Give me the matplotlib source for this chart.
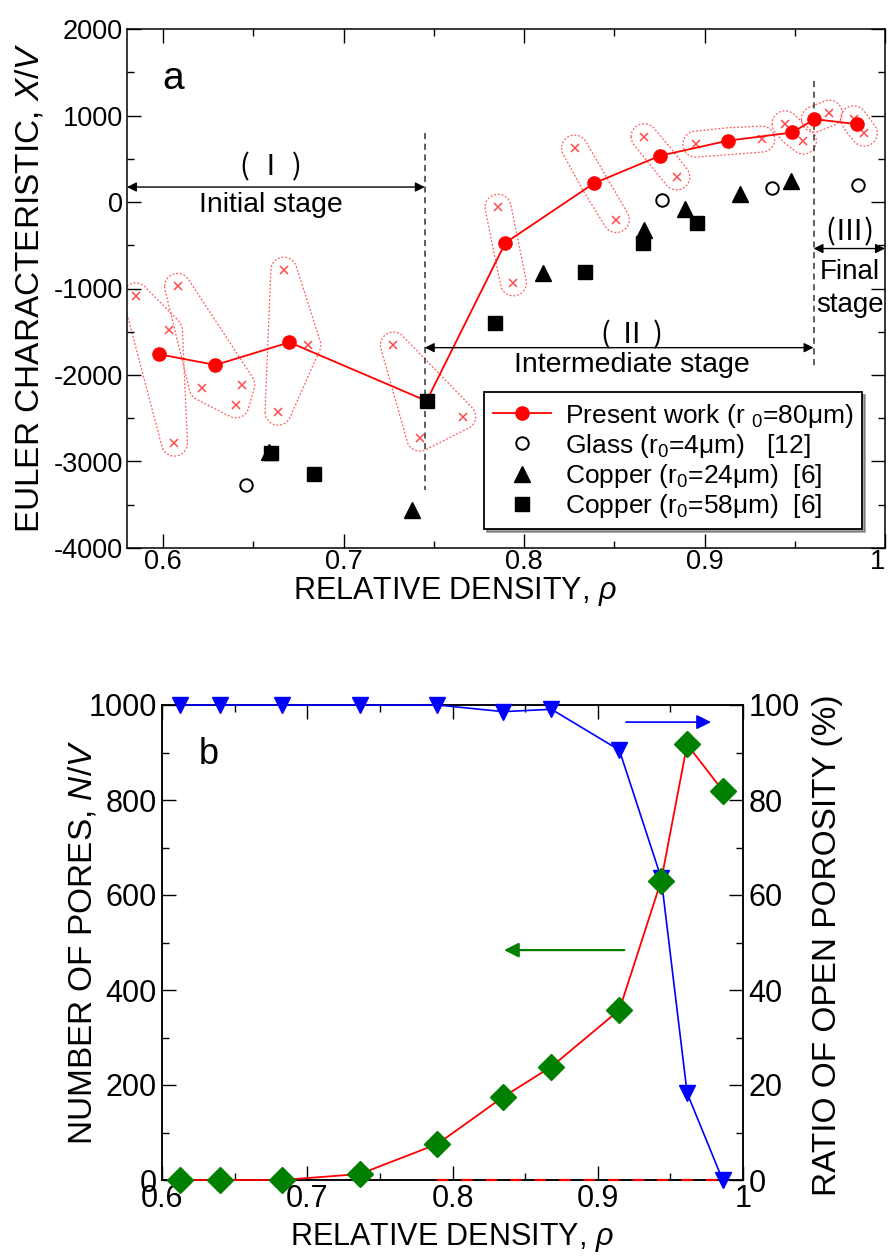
import numpy as np
import matplotlib
matplotlib.use('Agg')
import matplotlib.pyplot as plt
from matplotlib.patches import Polygon
from matplotlib.ticker import MultipleLocator, FuncFormatter

plt.rcParams['font.family'] = ['Liberation Sans', 'DejaVu Sans']
plt.rcParams['mathtext.fontset'] = 'custom'
plt.rcParams['mathtext.rm'] = 'Liberation Sans'
plt.rcParams['mathtext.it'] = 'Liberation Sans:italic'
plt.rcParams['axes.unicode_minus'] = False

# ---------------- data: panel a ----------------
present_x = [0.598, 0.629, 0.670, 0.746, 0.7896, 0.8387, 0.8754, 0.9128, 0.9487, 0.9609, 0.9844]
present_y = [-1761, -1884, -1622, -2300, -473, 216, 535, 708, 804, 958, 900]

sample_x = [0.5848, 0.6035, 0.6063,
            0.608, 0.6217, 0.6436, 0.6404,
            0.6669, 0.6637, 0.6802,
            0.7276, 0.7422, 0.766,
            0.7856, 0.7941,
            0.828, 0.8511,
            0.8665, 0.8846,
            0.8952, 0.9317,
            0.9446, 0.9548,
            0.9691,
            0.9826, 0.9885]
sample_y = [-1085, -1480, -2788,
            -976, -2146, -2111, -2346,
            -788, -2430, -1654,
            -1654, -2730, -2481,
            -61, -935,
            623, -203,
            755, 289,
            669, 727,
            904, 704,
            1027,
            962, 796]
sample_grp = [0, 0, 0, 1, 1, 1, 1, 2, 2, 2, 3, 3, 3, 4, 4, 5, 5, 6, 6, 7, 7, 8, 8, 9, 10, 10]

glass_x = [0.6461, 0.8767, 0.9372, 0.9848]
glass_y = [-3277, 20, 162, 200]
cu24_x = [0.6585, 0.7378, 0.8107, 0.8665, 0.889, 0.9196, 0.948]
cu24_y = [-2892, -3557, -823, -327, -76, 97, 242]
cu58_x = [0.660, 0.6835, 0.7461, 0.7839, 0.834, 0.8659, 0.8956]
cu58_y = [-2903, -3142, -2300, -1396, -807, -473, -242]

stage_bounds = [0.58, 0.745, 0.9604, 1.0]

# ---------------- data: panel b ----------------
dens_b = [0.6122, 0.6399, 0.6825, 0.7362, 0.7896, 0.835, 0.8682, 0.915, 0.9438, 0.9617, 0.9862]
pores = [0, 0, 0, 12.6, 75.8, 175, 238.6, 358, 630, 917, 820]
open_ratio = [100, 100, 100, 100, 100, 98.6, 99.1, 90.5, 63.6, 18.3, 0]

W, H = 888, 1259
fig = plt.figure(figsize=(W / 100, H / 100), dpi=100)

def fax(l, t, r, b):
    return [l / W, 1 - b / H, (r - l) / W, (b - t) / H]

RED = '#ff0000'
ax1 = fig.add_axes(fax(127, 29, 885, 548))
ax1.set_xlim(0.58, 1.0)
ax1.set_ylim(-4000, 2000)

# envelopes (rounded convex hull in display space)
def hull(points):
    pts = sorted(map(tuple, points))
    def cross(o, a, b):
        return (a[0] - o[0]) * (b[1] - o[1]) - (a[1] - o[1]) * (b[0] - o[0])
    lower, upper = [], []
    for p in pts:
        while len(lower) >= 2 and cross(lower[-2], lower[-1], p) <= 0:
            lower.pop()
        lower.append(p)
    for p in reversed(pts):
        while len(upper) >= 2 and cross(upper[-2], upper[-1], p) <= 0:
            upper.pop()
        upper.append(p)
    return np.array(lower[:-1] + upper[:-1])

ang = np.linspace(0, 2 * np.pi, 36, endpoint=False)
circ = np.column_stack([np.cos(ang), np.sin(ang)])
for g in range(len(present_x)):
    xs = [present_x[g]] + [sx for sx, sg in zip(sample_x, sample_grp) if sg == g]
    ys = [present_y[g]] + [sy for sy, sg in zip(sample_y, sample_grp) if sg == g]
    disp = ax1.transData.transform(np.column_stack([xs, ys]))
    r = 13.0
    allp = (disp[:, None, :] + r * circ[None, :, :]).reshape(-1, 2)
    hp = hull(allp)
    data = ax1.transData.inverted().transform(hp)
    ax1.add_patch(Polygon(data, closed=True, fill=False, ec='#ff5a5a',
                          ls=(0, (1.5, 1.5)), lw=0.9, zorder=1))

ax1.plot(sample_x, sample_y, ls='none', marker='x', ms=6, mew=1.1, color='#ff4a4a', zorder=2)
h_present, = ax1.plot(present_x, present_y, '-o', color=RED, lw=1.3, ms=9.5, zorder=3,
                      label='Present work (r $_\\mathrm{0}$=80μm)')
h_glass, = ax1.plot(glass_x, glass_y, ls='none', marker='o', mfc='white', mec='black',
                    mew=1.4, ms=9, zorder=4, label='Glass (r$_\\mathrm{0}$=4μm)   [12]')
h_cu24, = ax1.plot(cu24_x, cu24_y, ls='none', marker='^', color='black', ms=11, zorder=4,
                   label='Copper (r$_\\mathrm{0}$=24μm)  [6]')
h_cu58, = ax1.plot(cu58_x, cu58_y, ls='none', marker='s', color='black', ms=10, zorder=5,
                   label='Copper (r$_\\mathrm{0}$=58μm)  [6]')

# stage boundaries
ax1.plot([stage_bounds[1]] * 2, [800, -3330], ls=(0, (4, 3)), color='#333333', lw=1.1, zorder=2)
ax1.plot([stage_bounds[2]] * 2, [1400, -1920], ls=(0, (4, 3)), color='#333333', lw=1.1, zorder=2)

arrow_kw = dict(arrowstyle='<|-|>', color='black', lw=1.0, mutation_scale=14, shrinkA=0, shrinkB=0)
ax1.annotate('', xy=(stage_bounds[0], 173), xytext=(stage_bounds[1], 173), arrowprops=arrow_kw)
ax1.annotate('', xy=(stage_bounds[1], -1684), xytext=(stage_bounds[2], -1684), arrowprops=arrow_kw)
ax1.annotate('', xy=(stage_bounds[2], -538), xytext=(stage_bounds[3], -538), arrowprops=arrow_kw)

roman_font = ['Noto Sans CJK JP', 'DejaVu Sans']
ax1.text(0.6599, 400, '( Ⅰ )', family=roman_font, fontsize=21, ha='center', va='center')
ax1.text(0.6599, -38, 'Initial stage', fontsize=20.5, ha='center', va='center')
ax1.text(0.86, -1538, '( Ⅱ )', family=roman_font, fontsize=21, ha='center', va='center')
ax1.text(0.86, -1884, 'Intermediate stage', fontsize=20.5, ha='center', va='center')
ax1.text(0.9805, -346, '(Ⅲ)', family=roman_font, fontsize=21, ha='center', va='center')
ax1.text(0.9805, -808, 'Final', fontsize=20, ha='center', va='center')
ax1.text(0.9808, -1192, 'stage', fontsize=20, ha='center', va='center', clip_on=False)
ax1.text(0.6056, 1427, 'a', fontsize=28, ha='center', va='center')

leg = ax1.legend(handles=[h_present, h_glass, h_cu24, h_cu58], loc='upper right',
                 bbox_to_anchor=(0.97, 0.30), borderaxespad=0, fontsize=19,
                 frameon=True, fancybox=False, shadow=True, handlelength=2.2,
                 handletextpad=0.5, labelspacing=0.08, borderpad=0.35)
leg.get_frame().set_edgecolor('black')
leg.get_frame().set_linewidth(1.3)

ax1.xaxis.set_major_locator(MultipleLocator(0.1))
ax1.xaxis.set_minor_locator(MultipleLocator(0.05))
ax1.yaxis.set_major_locator(MultipleLocator(1000))
ax1.yaxis.set_minor_locator(MultipleLocator(500))
ax1.xaxis.set_major_formatter(FuncFormatter(lambda v, p: '%g' % round(v, 3)))
ax1.tick_params(which='both', direction='in', top=True, right=True, width=1.0)
ax1.tick_params(which='major', length=10)
ax1.tick_params(which='minor', length=5)
ax1.tick_params(axis='x', labelsize=19.5, pad=1)
ax1.tick_params(axis='y', labelsize=19.5, pad=3)
for s in ax1.spines.values():
    s.set_linewidth(1.1)

fig.text(455 / W, 1 - 591 / H, 'RELATIVE DENSITY, $\\rho$', fontsize=22, ha='center', va='center')
fig.text(30 / W, 1 - 288 / H, 'EULER CHARACTERISTIC, $X/V$', fontsize=24, rotation=90,
         ha='center', va='center')

# ---------------- panel b ----------------
GREEN = '#008000'
BLUE = '#0000ff'
ax2 = fig.add_axes(fax(162.3, 705, 742.7, 1180))
ax2r = ax2.twinx()
ax2.set_xlim(0.6, 1.0)
ax2.set_ylim(0, 1000)
ax2r.set_ylim(0, 100)

ax2r.plot(dens_b, [p / 10 for p in pores], '-', color=RED, lw=1.3, zorder=3, clip_on=False)
ax2r.plot(dens_b[4:], np.zeros(len(dens_b[4:])), ls=(0, (5, 6)), color=RED, lw=1.6,
          zorder=6, clip_on=False)
ax2r.plot(dens_b, open_ratio, '-v', color=BLUE, lw=1.2, ms=11, zorder=3, clip_on=False)
ax2r.plot(dens_b, [p / 10 for p in pores], ls='none', marker='D', color=GREEN, ms=13,
          zorder=5, clip_on=False)

ax2r.annotate('', xy=(0.9782, 96.4), xytext=(0.9195, 96.4),
              arrowprops=dict(arrowstyle='-|>', color=BLUE, lw=1.2, mutation_scale=22,
                              shrinkA=0, shrinkB=0))
ax2r.annotate('', xy=(0.8355, 48.4), xytext=(0.9184, 48.4),
              arrowprops=dict(arrowstyle='-|>', color=GREEN, lw=1.6, mutation_scale=22,
                              shrinkA=0, shrinkB=0))
ax2.text(0.632, 895, 'b', fontsize=26, ha='center', va='center')

ax2.xaxis.set_major_locator(MultipleLocator(0.1))
ax2.xaxis.set_minor_locator(MultipleLocator(0.05))
ax2.yaxis.set_major_locator(MultipleLocator(200))
ax2.yaxis.set_minor_locator(MultipleLocator(100))
ax2r.yaxis.set_major_locator(MultipleLocator(20))
ax2r.yaxis.set_minor_locator(MultipleLocator(10))
ax2.xaxis.set_major_formatter(FuncFormatter(lambda v, p: '%g' % round(v, 3)))
ax2.tick_params(which='both', direction='in', top=True, width=1.0)
ax2.tick_params(which='major', length=10)
ax2.tick_params(which='minor', length=5)
ax2.tick_params(axis='x', labelsize=22, pad=3)
ax2.tick_params(axis='y', labelsize=22, pad=4)
ax2r.tick_params(which='both', direction='in', width=1.0)
ax2r.tick_params(which='major', length=10, labelsize=22, pad=4)
ax2r.tick_params(which='minor', length=5)
for a in (ax2, ax2r):
    for s in a.spines.values():
        s.set_linewidth(1.1)

fig.text(452 / W, 1 - 1237 / H, 'RELATIVE DENSITY, $\\rho$', fontsize=22, ha='center', va='center')
fig.text(83 / W, 1 - 942 / H, 'NUMBER OF PORES, $N/V$', fontsize=24, rotation=90,
         ha='center', va='center')
fig.text(827 / W, 1 - 945 / H, 'RATIO OF OPEN POROSITY (%)', fontsize=24, rotation=90,
         ha='center', va='center')

# keep the last top-panel tick label "1" inside the figure
fig.canvas.draw()
labels = ax1.get_xticklabels()
for lab in labels:
    if lab.get_text() == '1':
        lab.set_horizontalalignment('right')
        lab.set_x(1.0)

fig.savefig('out.png', dpi=100)
